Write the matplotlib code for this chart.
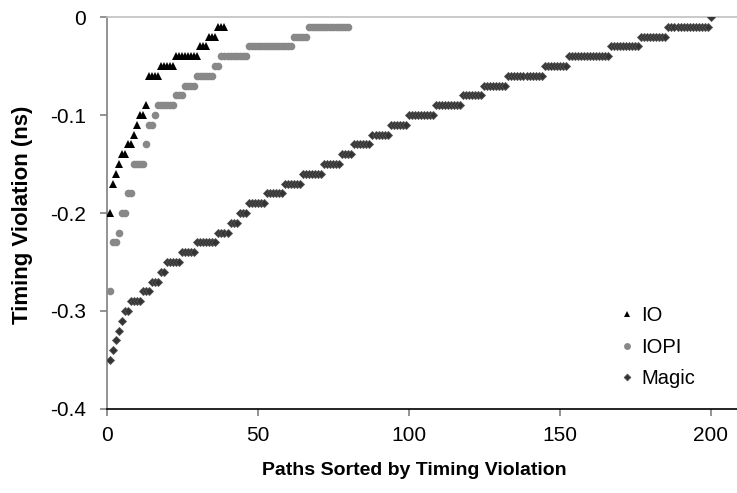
import numpy as np
import matplotlib
matplotlib.use('Agg')
import matplotlib.pyplot as plt

plt.rcParams['font.family'] = ['Liberation Sans', 'DejaVu Sans']

# timing violation levels (ns) and how many sorted paths sit at each level
io_levels = [-0.20, -0.17, -0.16, -0.15, -0.14, -0.13, -0.12, -0.11, -0.10, -0.09,
             -0.06, -0.05, -0.04, -0.03, -0.02, -0.01]
io_counts = [1, 1, 1, 1, 2, 2, 1, 1, 2, 1, 4, 5, 8, 3, 3, 3]

iopi_levels = [-0.28, -0.23, -0.22, -0.20, -0.18, -0.15, -0.13, -0.11, -0.10, -0.09,
               -0.08, -0.07, -0.06, -0.05, -0.04, -0.03, -0.02, -0.01]
iopi_counts = [1, 2, 1, 2, 2, 4, 1, 2, 1, 6, 3, 4, 6, 2, 9, 15, 5, 14]

magic_levels = [-0.35, -0.34, -0.33, -0.32, -0.31, -0.30, -0.29, -0.28, -0.27, -0.26,
                -0.25, -0.24, -0.23, -0.22, -0.21, -0.20, -0.19, -0.18, -0.17, -0.16,
                -0.15, -0.14, -0.13, -0.12, -0.11, -0.10, -0.09, -0.08, -0.07, -0.06,
                -0.05, -0.04, -0.03, -0.02, -0.01, 0.0]
magic_counts = [1, 1, 1, 1, 1, 2, 4, 3, 3, 2,
                5, 5, 7, 4, 3, 3, 6, 6, 6, 7,
                6, 4, 6, 6, 6, 9, 9, 7, 8, 12,
                8, 14, 10, 9, 14, 1]

y_ticks = [0, -0.1, -0.2, -0.3, -0.4]
y_labels = ['0', '-0.1', '-0.2', '-0.3', '-0.4']
x_ticks = [0, 50, 100, 150, 200]


def expand(levels, counts):
    y = np.repeat(levels, counts)
    x = np.arange(1, len(y) + 1)
    return x, y


fig = plt.figure(figsize=(7.37, 4.93), dpi=100)
ax = fig.add_axes([0.1448, 0.1704, 1 - 0.1448, 0.7951])

x, y = expand(magic_levels, magic_counts)
ax.plot(x, y, linestyle='none', marker='D', markersize=3.8, color='#333333',
        markeredgecolor='#555555', markeredgewidth=0.6, label='Magic', zorder=3)
x, y = expand(iopi_levels, iopi_counts)
ax.plot(x, y, linestyle='none', marker='o', markersize=5.5, color='#888888',
        markeredgewidth=0, label='IOPI', zorder=4)
x, y = expand(io_levels, io_counts)
ax.plot(x, y, linestyle='none', marker='^', markersize=5.4, color='black',
        markeredgewidth=0, label='IO', zorder=5)

ax.set_xlim(0, 208.7)
ax.set_ylim(-0.4, 0)
ax.set_xticks(x_ticks)
ax.set_yticks(y_ticks)
ax.set_yticklabels(y_labels)

ax.spines['right'].set_visible(False)
ax.spines['top'].set_color('#c0c0c0')
ax.spines['top'].set_linewidth(1.2)
ax.spines['left'].set_color('#808080')
ax.spines['left'].set_linewidth(1.2)
ax.spines['bottom'].set_color('black')
ax.spines['bottom'].set_linewidth(1.2)
ax.tick_params(axis='y', direction='out', length=5, color='#808080', width=1.2,
               labelsize=15, pad=10)
ax.tick_params(axis='x', direction='out', length=5, color='#808080', width=1.2,
               labelsize=15, pad=7)

fig.text(0.030, 0.564, 'Timing Violation (ns)', rotation=90, fontsize=16,
         fontweight='bold', ha='center', va='center')
fig.text(0.562, 0.045, 'Paths Sorted by Timing Violation', fontsize=14,
         fontweight='bold', ha='center', va='center')

handles, labels = ax.get_legend_handles_labels()
order = [2, 1, 0]
ax.legend([handles[i] for i in order], [labels[i] for i in order],
          loc='center left', bbox_to_anchor=(0.812, 0.158), frameon=False,
          fontsize=14.5, handlelength=0.8, handletextpad=0.32, labelspacing=0.62,
          borderaxespad=0, borderpad=0, markerscale=0.9)

fig.savefig('out.png', dpi=100)
